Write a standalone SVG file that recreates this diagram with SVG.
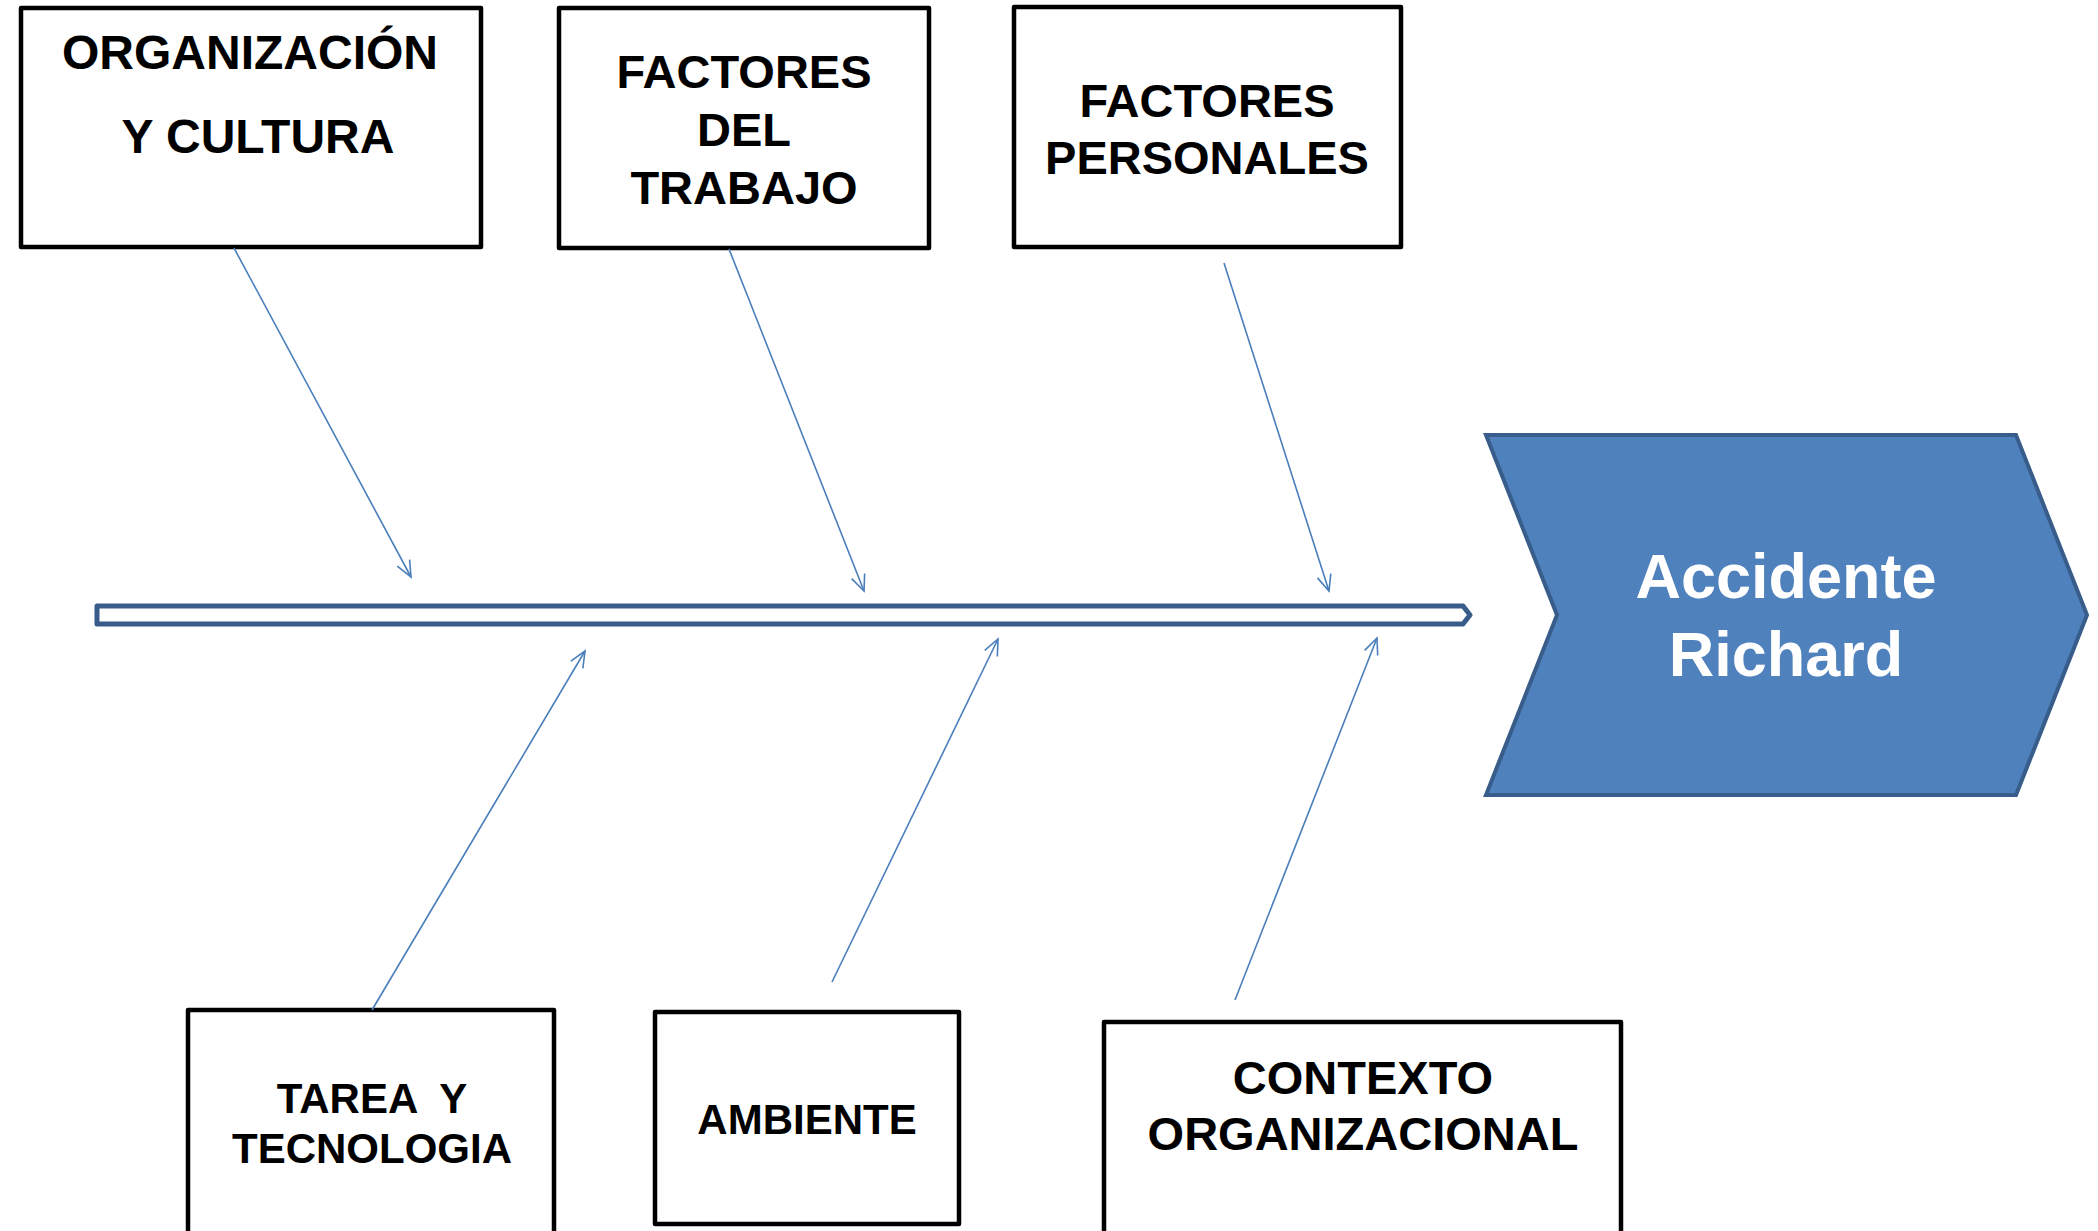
<svg xmlns="http://www.w3.org/2000/svg" width="2098" height="1231" viewBox="0 0 2098 1231">
<style>
.box{fill:#fff;stroke:#000;stroke-width:4.5;stroke-linejoin:round}
.lbl{font-family:"Liberation Sans",Arial,sans-serif;font-weight:bold;fill:#000;text-anchor:middle}
.conn{stroke:#4A7EBB;stroke-width:1.6;fill:none;marker-end:url(#arr)}
</style>
<defs>
<marker id="arr" markerUnits="userSpaceOnUse" markerWidth="20" markerHeight="20" viewBox="0 0 20 20" refX="18" refY="10" orient="auto">
<path d="M2,3 L18,10 L2,17" fill="none" stroke="#4A7EBB" stroke-width="1.6"/>
</marker>
</defs>
<rect width="2098" height="1231" fill="#fff"/>
<g id="spine">
<path d="M97,606 L1463,606 L1470,615 L1463,624 L97,624 Z" fill="#fff" stroke="#385D8A" stroke-width="5" stroke-linejoin="round"/>
</g>
<g id="accidente">
<path d="M1486,435 L2016,435 L2087,615 L2016,795 L1486,795 L1557,615 Z" fill="#4F81BD" stroke="#385D8A" stroke-width="4"/>
<text class="lbl" x="1786" y="598" font-size="63" style="fill:#fff">Accidente</text>
<text class="lbl" x="1786" y="676" font-size="63" style="fill:#fff">Richard</text>
</g>
<g id="organizacion">
<rect class="box" x="21" y="8" width="460" height="239"/>
<text class="lbl" x="250" y="69" font-size="48">ORGANIZACIÓN</text>
<text class="lbl" x="258" y="153" font-size="48"> Y CULTURA</text>
</g>
<g id="factores-trabajo">
<rect class="box" x="559" y="8" width="370" height="240"/>
<text class="lbl" x="744" y="88" font-size="47">FACTORES</text>
<text class="lbl" x="744" y="146" font-size="47">DEL</text>
<text class="lbl" x="744" y="204" font-size="47">TRABAJO</text>
</g>
<g id="factores-personales">
<rect class="box" x="1014" y="7" width="387" height="240"/>
<text class="lbl" x="1207" y="117" font-size="47">FACTORES</text>
<text class="lbl" x="1207" y="174" font-size="47">PERSONALES</text>
</g>
<g id="tarea">
<rect class="box" x="188" y="1010" width="366" height="240"/>
<text class="lbl" x="372" y="1113" font-size="42" style="white-space:pre">TAREA  Y</text>
<text class="lbl" x="372" y="1163" font-size="42">TECNOLOGIA</text>
</g>
<g id="ambiente">
<rect class="box" x="655" y="1012" width="304" height="212"/>
<text class="lbl" x="807" y="1134" font-size="42">AMBIENTE</text>
</g>
<g id="contexto">
<rect class="box" x="1104" y="1022" width="517" height="230"/>
<text class="lbl" x="1363" y="1094" font-size="47">CONTEXTO</text>
<text class="lbl" x="1363" y="1150" font-size="47">ORGANIZACIONAL</text>
</g>
<g id="connectors">
<line class="conn" x1="234" y1="248" x2="411" y2="577"/>
<line class="conn" x1="729" y1="249" x2="864" y2="591"/>
<line class="conn" x1="1224" y1="263" x2="1329" y2="591"/>
<line class="conn" x1="372" y1="1010" x2="585" y2="651"/>
<line class="conn" x1="832" y1="982" x2="998" y2="639"/>
<line class="conn" x1="1235" y1="1000" x2="1377" y2="638"/>
</g>
</svg>
